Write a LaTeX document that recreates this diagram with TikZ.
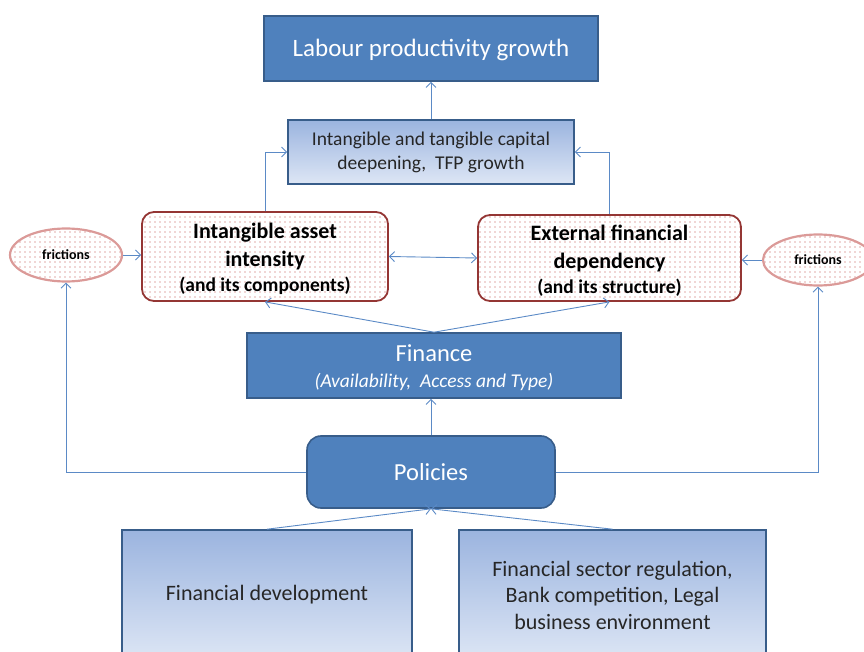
\documentclass[tikz,border=0pt]{standalone}
\usepackage{fontspec}
\setmainfont{Carlito}
\usetikzlibrary{arrows.meta,shapes.geometric,patterns.meta}
\definecolor{mblue}{HTML}{4F81BD}
\definecolor{mborder}{HTML}{385D8A}
\definecolor{gtop}{HTML}{9BB4DF}
\definecolor{gbot}{HTML}{DDE6F5}
\definecolor{lineblue}{HTML}{5B8AC6}
\definecolor{dred}{HTML}{943634}
\definecolor{lred}{HTML}{DB9A98}
\definecolor{dotred}{HTML}{C0504D}
\tikzset{
  solidbox/.style={draw=mborder, line width=1.6pt, fill=mblue, text=white, inner sep=0pt, align=center},
  gradbox/.style={draw=mborder, line width=1.6pt, top color=gtop, bottom color=gbot, text=black!85, inner sep=0pt, align=center},
  redbox/.style={draw=dred, line width=1.8pt, rounded corners=12pt, preaction={fill=white}, pattern={Dots[distance=5pt,radius=0.6pt]}, pattern color=dotred, inner sep=0pt, align=center, font=\bfseries\fontsize{22}{28}\selectfont},
  fricell/.style={ellipse, draw=lred, line width=2.2pt, preaction={fill=white}, pattern={Dots[distance=5pt,radius=0.6pt]}, pattern color=dotred, inner sep=0pt, font=\bfseries\fontsize{14}{16}\selectfont},
  conn/.style={draw=lineblue, line width=0.9pt, -{Straight Barb[length=5pt,width=10pt]}},
  conn2/.style={draw=lineblue, line width=0.9pt, {Straight Barb[length=5pt,width=10pt]}-{Straight Barb[length=5pt,width=10pt]}}
}
\begin{document}
\begin{tikzpicture}[x=1pt,y=-1pt]
\useasboundingbox (0,0) rectangle (864,652);
\clip (0,0) rectangle (864,652);
% nodes
\node[solidbox, minimum width=334pt, minimum height=65pt, font=\fontsize{25}{30}\selectfont] (lab) at (431,48.5) {\rule{0pt}{21pt}Labour productivity growth};
\node[gradbox, minimum width=286pt, minimum height=64pt, font=\fontsize{19.5}{24}\selectfont] (cap) at (431,152) {Intangible and tangible capital\\deepening,\ \ TFP growth};
\node[redbox, minimum width=246pt, minimum height=89pt] (redL) at (265,256.5) {\rule{0pt}{20pt}Intangible asset\\intensity\\[-3pt]{\fontsize{19.5}{23}\selectfont (and its components)}};
\node[redbox, minimum width=263pt, minimum height=86pt] (redR) at (609.5,258) {\rule{0pt}{20pt}External financial\\dependency\\[-3pt]{\fontsize{19.5}{23}\selectfont (and its structure)}};
\node[fricell, minimum width=112pt, minimum height=53pt] (fricL) at (66,255) {frictions};
\node[fricell, minimum width=110pt, minimum height=51pt] (fricR) at (818,260) {frictions};
\node[solidbox, minimum width=374pt, minimum height=65pt, font=\fontsize{24.5}{26}\selectfont] (fin) at (434,365.5) {\rule{0pt}{22pt}Finance\\{\fontsize{19.5}{22}\selectfont\itshape (Availability,\ \ Access and Type)}};
\node[solidbox, rounded corners=14pt, minimum width=248pt, minimum height=72pt, font=\fontsize{24.5}{28}\selectfont] (pol) at (431,472) {Policies};
\node[gradbox, minimum width=290pt, minimum height=130pt, font=\fontsize{22}{26.5}\selectfont] (botL) at (267,595) {Financial development};
\node[gradbox, minimum width=307pt, minimum height=130pt, font=\fontsize{22}{26.5}\selectfont] (botR) at (612.5,595) {Financial sector regulation,\\Bank competition, Legal\\business environment};
% connectors
\draw[conn] (cap.north) -- (lab.south);
\draw[conn] (redL.north) |- (cap.west);
\draw[conn] (redR.north) |- (cap.east);
\draw[conn] (fricL.east) -- (fricL.east -| redL.west);
\draw[conn] (fricR.west) -- (fricR.west -| redR.east);
\draw[conn2] (redL.east) -- (redR.west);
\draw[conn] (fin.north) -- (redL.south);
\draw[conn] (fin.north) -- (redR.south);
\draw[conn] (pol.north) -- (pol.north |- fin.south);
\draw[conn] (pol.west) -| (fricL.south);
\draw[conn] (pol.east) -| (fricR.south);
\draw[conn] (botL.north) -- (pol.south);
\draw[conn] (botR.north) -- (pol.south);
\end{tikzpicture}
\end{document}
